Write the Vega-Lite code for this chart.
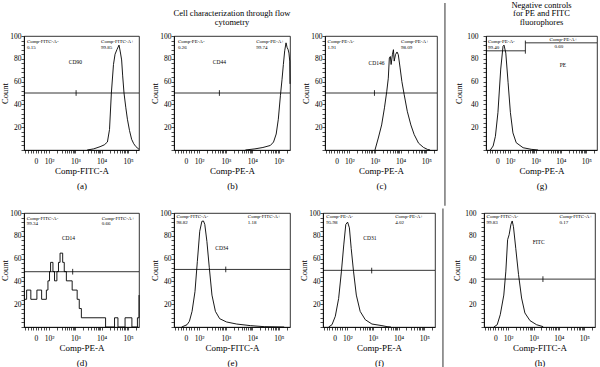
{
"$schema": "https://vega.github.io/schema/vega-lite/v6.json",
"padding": {"left": 0, "top": 0, "right": 0, "bottom": 0},
"spacing": 0,
"datasets": {
"a": [{"u":3.45,"n":0},{"u":3.7,"n":1},{"u":3.94,"n":2.9},{"u":4.1,"n":4.5},{"u":4.22,"n":7},{"u":4.3,"n":18},{"u":4.37,"n":50},{"u":4.45,"n":75},{"u":4.51,"n":84},{"u":4.58,"n":88},{"u":4.66,"n":92},{"u":4.71,"n":86},{"u":4.76,"n":79},{"u":4.8,"n":65},{"u":4.85,"n":50},{"u":4.92,"n":37},{"u":4.98,"n":27},{"u":5.06,"n":17},{"u":5.14,"n":9.4},{"u":5.22,"n":5.5},{"u":5.3,"n":3},{"u":5.42,"n":0.6}],
"b": [{"u":3.74,"n":0},{"u":4.1,"n":1},{"u":4.4,"n":2.2},{"u":4.68,"n":4},{"u":4.8,"n":7},{"u":4.9,"n":14},{"u":4.98,"n":27},{"u":5.06,"n":48},{"u":5.12,"n":62},{"u":5.17,"n":75},{"u":5.22,"n":87},{"u":5.27,"n":94},{"u":5.31,"n":90},{"u":5.35,"n":88},{"u":5.38,"n":85},{"u":5.41,"n":78},{"u":5.42,"n":58}],
"c": [{"u":3.0,"n":0},{"u":3.13,"n":10.5},{"u":3.26,"n":22},{"u":3.37,"n":37},{"u":3.46,"n":51.5},{"u":3.52,"n":63},{"u":3.56,"n":80.7},{"u":3.6,"n":82},{"u":3.63,"n":75},{"u":3.68,"n":83.6},{"u":3.72,"n":88},{"u":3.75,"n":78},{"u":3.8,"n":83.6},{"u":3.86,"n":86},{"u":3.91,"n":83.6},{"u":3.98,"n":72},{"u":4.05,"n":60},{"u":4.14,"n":48.5},{"u":4.26,"n":34},{"u":4.4,"n":22},{"u":4.53,"n":13.5},{"u":4.7,"n":6},{"u":4.89,"n":2.3},{"u":5.05,"n":0.5},{"u":5.15,"n":0}],
"d": [{"u":1.05,"n":24.3},{"u":1.15,"n":32.4},{"u":1.31,"n":24.3},{"u":1.54,"n":32.4},{"u":1.72,"n":24.3},{"u":1.9,"n":32.4},{"u":1.96,"n":40.5},{"u":2.02,"n":48.6},{"u":2.06,"n":56.7},{"u":2.15,"n":48.6},{"u":2.21,"n":40.5},{"u":2.3,"n":48.6},{"u":2.36,"n":56.7},{"u":2.42,"n":64.8},{"u":2.52,"n":56.7},{"u":2.58,"n":48.6},{"u":2.66,"n":40.5},{"u":2.88,"n":32.4},{"u":3.07,"n":24.3},{"u":3.15,"n":16.2},{"u":3.23,"n":8.1},{"u":4.15,"n":0},{"u":4.49,"n":8.1},{"u":4.62,"n":0},{"u":4.89,"n":8.1},{"u":5.15,"n":0},{"u":5.36,"n":8.1},{"u":5.42,"n":28}],
"e": [{"u":1.34,"n":0},{"u":1.54,"n":2},{"u":1.63,"n":5},{"u":1.73,"n":13.7},{"u":1.84,"n":31},{"u":1.93,"n":57.6},{"u":2.02,"n":84},{"u":2.1,"n":92.7},{"u":2.16,"n":93},{"u":2.21,"n":90},{"u":2.29,"n":75},{"u":2.38,"n":52},{"u":2.48,"n":28},{"u":2.61,"n":13.7},{"u":2.77,"n":7.3},{"u":3.03,"n":4.4},{"u":3.41,"n":2.6},{"u":3.93,"n":1.2},{"u":4.45,"n":0.3},{"u":5.2,"n":0}],
"f": [{"u":1.27,"n":0},{"u":1.4,"n":2},{"u":1.53,"n":9.4},{"u":1.66,"n":25},{"u":1.77,"n":49},{"u":1.86,"n":72},{"u":1.94,"n":90},{"u":2.01,"n":92},{"u":2.08,"n":87},{"u":2.15,"n":69},{"u":2.24,"n":49},{"u":2.35,"n":28},{"u":2.5,"n":13.7},{"u":2.7,"n":6.4},{"u":2.96,"n":2.6},{"u":3.35,"n":1.2},{"u":3.55,"n":0.3},{"u":3.7,"n":0}],
"g": [{"u":1.22,"n":0},{"u":1.33,"n":3.5},{"u":1.42,"n":12},{"u":1.52,"n":33},{"u":1.63,"n":71},{"u":1.72,"n":91},{"u":1.76,"n":92},{"u":1.83,"n":85},{"u":1.92,"n":59},{"u":2.01,"n":33},{"u":2.11,"n":15},{"u":2.24,"n":6.4},{"u":2.51,"n":2},{"u":2.83,"n":0.6},{"u":3.1,"n":0}],
"h": [{"u":1.44,"n":0},{"u":1.57,"n":2},{"u":1.69,"n":10.8},{"u":1.83,"n":28},{"u":1.91,"n":49},{"u":1.98,"n":76.6},{"u":2.04,"n":81},{"u":2.11,"n":90},{"u":2.16,"n":93},{"u":2.21,"n":88},{"u":2.3,"n":69},{"u":2.41,"n":46},{"u":2.53,"n":25.4},{"u":2.66,"n":12.3},{"u":2.86,"n":5.6},{"u":3.12,"n":2},{"u":3.38,"n":0.3}]
},
"vconcat": [
{"hconcat": [
{"width": 115, "height": 114,
 "resolve": {"axis": {"x": "independent", "y": "independent"}},
 "layer": [
  {"data": {"name": "a"}, "mark": {"type": "line", "color": "#000", "strokeWidth": 0.9},
   "encoding": {
    "x": {"field": "u", "type": "quantitative", "scale": {"domain": [1.05, 5.42], "nice": false, "zero": false},
      "axis": {"values": [1.1,1.2,1.3,1.4,1.5,1.6,1.7,1.8,1.9,2,2.301,2.477,2.602,2.699,2.778,2.845,2.903,2.954,3,3.301,3.477,3.602,3.699,3.778,3.845,3.903,3.954,4,4.301,4.477,4.602,4.699,4.778,4.845,4.903,4.954,5,5.301],
       "labelExpr": "datum.value==1.5?'0':datum.value==2?'10²':datum.value==3?'10³':datum.value==4?'10⁴':datum.value==5?'10⁵':''",
       "title": ["Comp-FITC-A", "(a)"]}},
    "y": {"field": "n", "type": "quantitative", "scale": {"domain": [0, 100], "nice": false},
      "axis": {"values": [0,4,8,12,16,20,24,28,32,36,40,44,48,52,56,60,64,68,72,76,80,84,88,92,96,100],
       "labelExpr": "datum.value>0&&datum.value%20==0?datum.label:''",
       "title": "Count"}}}},
  {"data": {"values": [{}]}, "mark": {"type": "rule", "color": "#000", "strokeWidth": 0.8}, "encoding": {"y": {"datum": 50, "axis": null}}},
  {"data": {"values": [{}]}, "mark": {"type": "rule", "color": "#000", "strokeWidth": 0.8}, "encoding": {"x": {"datum": 3.03, "axis": null}, "y": {"datum": 47.5, "axis": null}, "y2": {"datum": 52.5}}},
  {"data": {"values": [{"u":1.16,"n":95.5,"t":"Comp-FITC-A-"},{"u":1.16,"n":90.5,"t":"0.15"},{"u":3.98,"n":95.5,"t":"Comp-FITC-A+"},{"u":3.98,"n":90.5,"t":"99.85"}]},
   "mark": {"type": "text", "fontSize": 5, "align": "left", "baseline": "middle"},
   "encoding": {"x": {"field": "u", "type": "quantitative", "axis": null}, "y": {"field": "n", "type": "quantitative", "axis": null}, "text": {"field": "t"}}},
  {"data": {"values": [{}]}, "mark": {"type": "text", "fontSize": 5.5, "align": "center", "baseline": "middle"}, "encoding": {"x": {"datum": 3.0, "axis": null}, "y": {"datum": 77, "axis": null}, "text": {"value": "CD90"}}}
 ]},
{"width": 116, "height": 114,
 "title": {"text": ["Cell characterization through flow", "cytometry"]},
 "resolve": {"axis": {"x": "independent", "y": "independent"}},
 "layer": [
  {"data": {"name": "b"}, "mark": {"type": "line", "color": "#000", "strokeWidth": 0.9},
   "encoding": {
    "x": {"field": "u", "type": "quantitative", "scale": {"domain": [1.05, 5.42], "nice": false, "zero": false},
      "axis": {"values": [1.1,1.2,1.3,1.4,1.5,1.6,1.7,1.8,1.9,2,2.301,2.477,2.602,2.699,2.778,2.845,2.903,2.954,3,3.301,3.477,3.602,3.699,3.778,3.845,3.903,3.954,4,4.301,4.477,4.602,4.699,4.778,4.845,4.903,4.954,5,5.301],
       "labelExpr": "datum.value==1.5?'0':datum.value==2?'10²':datum.value==3?'10³':datum.value==4?'10⁴':datum.value==5?'10⁵':''",
       "title": ["Comp-PE-A", "(b)"]}},
    "y": {"field": "n", "type": "quantitative", "scale": {"domain": [0, 100], "nice": false},
      "axis": {"values": [0,4,8,12,16,20,24,28,32,36,40,44,48,52,56,60,64,68,72,76,80,84,88,92,96,100],
       "labelExpr": "datum.value>0&&datum.value%20==0?datum.label:''",
       "title": "Count"}}}},
  {"data": {"values": [{}]}, "mark": {"type": "rule", "color": "#000", "strokeWidth": 0.8}, "encoding": {"y": {"datum": 50, "axis": null}}},
  {"data": {"values": [{}]}, "mark": {"type": "rule", "color": "#000", "strokeWidth": 0.8}, "encoding": {"x": {"datum": 2.76, "axis": null}, "y": {"datum": 47.5, "axis": null}, "y2": {"datum": 52.5}}},
  {"data": {"values": [{"u":1.2,"n":95.5,"t":"Comp-PE-A-"},{"u":1.2,"n":90.5,"t":"0.26"},{"u":4.15,"n":95.5,"t":"Comp-PE-A+"},{"u":4.15,"n":90.5,"t":"99.74"}]},
   "mark": {"type": "text", "fontSize": 5, "align": "left", "baseline": "middle"},
   "encoding": {"x": {"field": "u", "type": "quantitative", "axis": null}, "y": {"field": "n", "type": "quantitative", "axis": null}, "text": {"field": "t"}}},
  {"data": {"values": [{}]}, "mark": {"type": "text", "fontSize": 5.5, "align": "center", "baseline": "middle"}, "encoding": {"x": {"datum": 2.76, "axis": null}, "y": {"datum": 77, "axis": null}, "text": {"value": "CD44"}}}
 ]},
{"width": 112, "height": 114,
 "resolve": {"axis": {"x": "independent", "y": "independent"}},
 "layer": [
  {"data": {"name": "c"}, "mark": {"type": "line", "color": "#000", "strokeWidth": 0.9},
   "encoding": {
    "x": {"field": "u", "type": "quantitative", "scale": {"domain": [1.05, 5.42], "nice": false, "zero": false},
      "axis": {"values": [1.1,1.2,1.3,1.4,1.5,1.6,1.7,1.8,1.9,2,2.301,2.477,2.602,2.699,2.778,2.845,2.903,2.954,3,3.301,3.477,3.602,3.699,3.778,3.845,3.903,3.954,4,4.301,4.477,4.602,4.699,4.778,4.845,4.903,4.954,5,5.301],
       "labelExpr": "datum.value==1.5?'0':datum.value==2?'10²':datum.value==3?'10³':datum.value==4?'10⁴':datum.value==5?'10⁵':''",
       "title": ["Comp-PE-A", "(c)"]}},
    "y": {"field": "n", "type": "quantitative", "scale": {"domain": [0, 100], "nice": false},
      "axis": {"values": [0,4,8,12,16,20,24,28,32,36,40,44,48,52,56,60,64,68,72,76,80,84,88,92,96,100],
       "labelExpr": "datum.value>0&&datum.value%20==0?datum.label:''",
       "title": "Count"}}}},
  {"data": {"values": [{}]}, "mark": {"type": "rule", "color": "#000", "strokeWidth": 0.8}, "encoding": {"y": {"datum": 50, "axis": null}}},
  {"data": {"values": [{}]}, "mark": {"type": "rule", "color": "#000", "strokeWidth": 0.8}, "encoding": {"x": {"datum": 2.98, "axis": null}, "y": {"datum": 47.5, "axis": null}, "y2": {"datum": 52.5}}},
  {"data": {"values": [{"u":1.15,"n":95.5,"t":"Comp-PE-A-"},{"u":1.15,"n":90.5,"t":"1.91"},{"u":4.02,"n":95.5,"t":"Comp-PE-A+"},{"u":4.02,"n":90.5,"t":"98.09"}]},
   "mark": {"type": "text", "fontSize": 5, "align": "left", "baseline": "middle"},
   "encoding": {"x": {"field": "u", "type": "quantitative", "axis": null}, "y": {"field": "n", "type": "quantitative", "axis": null}, "text": {"field": "t"}}},
  {"data": {"values": [{}]}, "mark": {"type": "text", "fontSize": 5.5, "align": "center", "baseline": "middle"}, "encoding": {"x": {"datum": 3.06, "axis": null}, "y": {"datum": 76, "axis": null}, "text": {"value": "CD146"}}},
  {"data": {"values": [{}]}, "mark": {"type": "rule", "color": "#444", "strokeWidth": 1.1}, "encoding": {"x": {"datum": 5.73, "axis": null}, "y": {"datum": 128.95, "axis": null}, "y2": {"datum": -49}}}
 ]},
{"width": 111, "height": 114,
 "title": {"text": ["Negative controls", "for PE and FITC", "fluorophores"]},
 "resolve": {"axis": {"x": "independent", "y": "independent"}},
 "layer": [
  {"data": {"name": "g"}, "mark": {"type": "line", "color": "#000", "strokeWidth": 0.9},
   "encoding": {
    "x": {"field": "u", "type": "quantitative", "scale": {"domain": [1.05, 5.42], "nice": false, "zero": false},
      "axis": {"values": [1.1,1.2,1.3,1.4,1.5,1.6,1.7,1.8,1.9,2,2.301,2.477,2.602,2.699,2.778,2.845,2.903,2.954,3,3.301,3.477,3.602,3.699,3.778,3.845,3.903,3.954,4,4.301,4.477,4.602,4.699,4.778,4.845,4.903,4.954,5,5.301],
       "labelExpr": "datum.value==1.5?'0':datum.value==2?'10²':datum.value==3?'10³':datum.value==4?'10⁴':datum.value==5?'10⁵':''",
       "title": ["Comp-PE-A", "(g)"]}},
    "y": {"field": "n", "type": "quantitative", "scale": {"domain": [0, 100], "nice": false},
      "axis": {"values": [0,4,8,12,16,20,24,28,32,36,40,44,48,52,56,60,64,68,72,76,80,84,88,92,96,100],
       "labelExpr": "datum.value>0&&datum.value%20==0?datum.label:''",
       "labelPadding": 5, "titlePadding": 3,
       "title": "Count"}}}},
  {"data": {"values": [{}]}, "mark": {"type": "rule", "color": "#000", "strokeWidth": 0.8}, "encoding": {"x": {"datum": 1.05, "axis": null}, "x2": {"datum": 2.6}, "y": {"datum": 87, "axis": null}}},
  {"data": {"values": [{}]}, "mark": {"type": "rule", "color": "#000", "strokeWidth": 0.8}, "encoding": {"x": {"datum": 2.6, "axis": null}, "x2": {"datum": 5.42}, "y": {"datum": 94, "axis": null}}},
  {"data": {"values": [{}]}, "mark": {"type": "rule", "color": "#000", "strokeWidth": 0.8}, "encoding": {"x": {"datum": 2.6, "axis": null}, "y": {"datum": 84.5, "axis": null}, "y2": {"datum": 96}}},
  {"data": {"values": [{"u":1.13,"n":95.5,"t":"Comp-PE-A-"},{"u":1.13,"n":90.5,"t":"99.40"},{"u":3.55,"n":97.5,"t":"Comp-PE-A+"},{"u":3.75,"n":91.5,"t":"0.60"}]},
   "mark": {"type": "text", "fontSize": 5, "align": "left", "baseline": "middle"},
   "encoding": {"x": {"field": "u", "type": "quantitative", "axis": null}, "y": {"field": "n", "type": "quantitative", "axis": null}, "text": {"field": "t"}}},
  {"data": {"values": [{}]}, "mark": {"type": "text", "fontSize": 5.5, "align": "center", "baseline": "middle"}, "encoding": {"x": {"datum": 4.08, "axis": null}, "y": {"datum": 75, "axis": null}, "text": {"value": "PE"}}}
 ]}
], "spacing": 8},
{"hconcat": [
{"width": 115, "height": 114,
 "resolve": {"axis": {"x": "independent", "y": "independent"}},
 "layer": [
  {"data": {"name": "d"}, "mark": {"type": "line", "color": "#000", "strokeWidth": 0.9, "interpolate": "step-after"},
   "encoding": {
    "x": {"field": "u", "type": "quantitative", "scale": {"domain": [1.05, 5.42], "nice": false, "zero": false},
      "axis": {"values": [1.1,1.2,1.3,1.4,1.5,1.6,1.7,1.8,1.9,2,2.301,2.477,2.602,2.699,2.778,2.845,2.903,2.954,3,3.301,3.477,3.602,3.699,3.778,3.845,3.903,3.954,4,4.301,4.477,4.602,4.699,4.778,4.845,4.903,4.954,5,5.301],
       "labelExpr": "datum.value==1.5?'0':datum.value==2?'10²':datum.value==3?'10³':datum.value==4?'10⁴':datum.value==5?'10⁵':''",
       "title": ["Comp-PE-A", "(d)"]}},
    "y": {"field": "n", "type": "quantitative", "scale": {"domain": [0, 100], "nice": false},
      "axis": {"values": [0,4,8,12,16,20,24,28,32,36,40,44,48,52,56,60,64,68,72,76,80,84,88,92,96,100],
       "labelExpr": "datum.value>0&&datum.value%20==0?datum.label:''",
       "title": "Count"}}}},
  {"data": {"values": [{}]}, "mark": {"type": "rule", "color": "#000", "strokeWidth": 0.8}, "encoding": {"y": {"datum": 48.5, "axis": null}}},
  {"data": {"values": [{}]}, "mark": {"type": "rule", "color": "#000", "strokeWidth": 0.8}, "encoding": {"x": {"datum": 2.9, "axis": null}, "y": {"datum": 46, "axis": null}, "y2": {"datum": 51}}},
  {"data": {"values": [{"u":1.15,"n":96,"t":"Comp-FITC-A-"},{"u":1.15,"n":91,"t":"99.34"},{"u":4.0,"n":96,"t":"Comp-FITC-A+"},{"u":4.0,"n":91,"t":"0.66"}]},
   "mark": {"type": "text", "fontSize": 5, "align": "left", "baseline": "middle"},
   "encoding": {"x": {"field": "u", "type": "quantitative", "axis": null}, "y": {"field": "n", "type": "quantitative", "axis": null}, "text": {"field": "t"}}},
  {"data": {"values": [{}]}, "mark": {"type": "text", "fontSize": 5.5, "align": "center", "baseline": "middle"}, "encoding": {"x": {"datum": 2.74, "axis": null}, "y": {"datum": 78, "axis": null}, "text": {"value": "CD14"}}}
 ]},
{"width": 116, "height": 114,
 "resolve": {"axis": {"x": "independent", "y": "independent"}},
 "layer": [
  {"data": {"name": "e"}, "mark": {"type": "line", "color": "#000", "strokeWidth": 0.9},
   "encoding": {
    "x": {"field": "u", "type": "quantitative", "scale": {"domain": [1.05, 5.42], "nice": false, "zero": false},
      "axis": {"values": [1.1,1.2,1.3,1.4,1.5,1.6,1.7,1.8,1.9,2,2.301,2.477,2.602,2.699,2.778,2.845,2.903,2.954,3,3.301,3.477,3.602,3.699,3.778,3.845,3.903,3.954,4,4.301,4.477,4.602,4.699,4.778,4.845,4.903,4.954,5,5.301],
       "labelExpr": "datum.value==1.5?'0':datum.value==2?'10²':datum.value==3?'10³':datum.value==4?'10⁴':datum.value==5?'10⁵':''",
       "title": ["Comp-FITC-A", "(e)"]}},
    "y": {"field": "n", "type": "quantitative", "scale": {"domain": [0, 100], "nice": false},
      "axis": {"values": [0,4,8,12,16,20,24,28,32,36,40,44,48,52,56,60,64,68,72,76,80,84,88,92,96,100],
       "labelExpr": "datum.value>0&&datum.value%20==0?datum.label:''",
       "title": "Count"}}}},
  {"data": {"values": [{}]}, "mark": {"type": "rule", "color": "#000", "strokeWidth": 0.8}, "encoding": {"y": {"datum": 50.5, "axis": null}}},
  {"data": {"values": [{}]}, "mark": {"type": "rule", "color": "#000", "strokeWidth": 0.8}, "encoding": {"x": {"datum": 3.0, "axis": null}, "y": {"datum": 48, "axis": null}, "y2": {"datum": 53}}},
  {"data": {"values": [{"u":1.14,"n":97,"t":"Comp-FITC-A-"},{"u":1.14,"n":92,"t":"98.82"},{"u":3.83,"n":97,"t":"Comp-FITC-A+"},{"u":3.83,"n":92,"t":"1.18"}]},
   "mark": {"type": "text", "fontSize": 5, "align": "left", "baseline": "middle"},
   "encoding": {"x": {"field": "u", "type": "quantitative", "axis": null}, "y": {"field": "n", "type": "quantitative", "axis": null}, "text": {"field": "t"}}},
  {"data": {"values": [{}]}, "mark": {"type": "text", "fontSize": 5.5, "align": "center", "baseline": "middle"}, "encoding": {"x": {"datum": 2.85, "axis": null}, "y": {"datum": 69, "axis": null}, "text": {"value": "CD34"}}}
 ]},
{"width": 112, "height": 114,
 "resolve": {"axis": {"x": "independent", "y": "independent"}},
 "layer": [
  {"data": {"name": "f"}, "mark": {"type": "line", "color": "#000", "strokeWidth": 0.9},
   "encoding": {
    "x": {"field": "u", "type": "quantitative", "scale": {"domain": [1.05, 5.42], "nice": false, "zero": false},
      "axis": {"values": [1.1,1.2,1.3,1.4,1.5,1.6,1.7,1.8,1.9,2,2.301,2.477,2.602,2.699,2.778,2.845,2.903,2.954,3,3.301,3.477,3.602,3.699,3.778,3.845,3.903,3.954,4,4.301,4.477,4.602,4.699,4.778,4.845,4.903,4.954,5,5.301],
       "labelExpr": "datum.value==1.5?'0':datum.value==2?'10²':datum.value==3?'10³':datum.value==4?'10⁴':datum.value==5?'10⁵':''",
       "title": ["Comp-PE-A", "(f)"]}},
    "y": {"field": "n", "type": "quantitative", "scale": {"domain": [0, 100], "nice": false},
      "axis": {"values": [0,4,8,12,16,20,24,28,32,36,40,44,48,52,56,60,64,68,72,76,80,84,88,92,96,100],
       "labelExpr": "datum.value>0&&datum.value%20==0?datum.label:''",
       "title": "Count"}}}},
  {"data": {"values": [{}]}, "mark": {"type": "rule", "color": "#000", "strokeWidth": 0.8}, "encoding": {"y": {"datum": 49.7, "axis": null}}},
  {"data": {"values": [{}]}, "mark": {"type": "rule", "color": "#000", "strokeWidth": 0.8}, "encoding": {"x": {"datum": 2.95, "axis": null}, "y": {"datum": 47, "axis": null}, "y2": {"datum": 52}}},
  {"data": {"values": [{"u":1.18,"n":97,"t":"Comp-PE-A-"},{"u":1.18,"n":92,"t":"95.98"},{"u":3.87,"n":97,"t":"Comp-PE-A+"},{"u":3.87,"n":92,"t":"4.02"}]},
   "mark": {"type": "text", "fontSize": 5, "align": "left", "baseline": "middle"},
   "encoding": {"x": {"field": "u", "type": "quantitative", "axis": null}, "y": {"field": "n", "type": "quantitative", "axis": null}, "text": {"field": "t"}}},
  {"data": {"values": [{}]}, "mark": {"type": "text", "fontSize": 5.5, "align": "center", "baseline": "middle"}, "encoding": {"x": {"datum": 2.88, "axis": null}, "y": {"datum": 78, "axis": null}, "text": {"value": "CD31"}}},
  {"data": {"values": [{}]}, "mark": {"type": "rule", "color": "#444", "strokeWidth": 1.1}, "encoding": {"x": {"datum": 5.73, "axis": null}, "y": {"datum": 104, "axis": null}, "y2": {"datum": -40.4}}}
 ]},
{"width": 111, "height": 114,
 "resolve": {"axis": {"x": "independent", "y": "independent"}},
 "layer": [
  {"data": {"name": "h"}, "mark": {"type": "line", "color": "#000", "strokeWidth": 0.9},
   "encoding": {
    "x": {"field": "u", "type": "quantitative", "scale": {"domain": [1.05, 5.42], "nice": false, "zero": false},
      "axis": {"values": [1.1,1.2,1.3,1.4,1.5,1.6,1.7,1.8,1.9,2,2.301,2.477,2.602,2.699,2.778,2.845,2.903,2.954,3,3.301,3.477,3.602,3.699,3.778,3.845,3.903,3.954,4,4.301,4.477,4.602,4.699,4.778,4.845,4.903,4.954,5,5.301],
       "labelExpr": "datum.value==1.5?'0':datum.value==2?'10²':datum.value==3?'10³':datum.value==4?'10⁴':datum.value==5?'10⁵':''",
       "title": ["Comp-FITC-A", "(h)"]}},
    "y": {"field": "n", "type": "quantitative", "scale": {"domain": [0, 100], "nice": false},
      "axis": {"values": [0,4,8,12,16,20,24,28,32,36,40,44,48,52,56,60,64,68,72,76,80,84,88,92,96,100],
       "labelExpr": "datum.value>0&&datum.value%20==0?datum.label:''",
       "labelPadding": 5, "titlePadding": 3,
       "title": "Count"}}}},
  {"data": {"values": [{}]}, "mark": {"type": "rule", "color": "#000", "strokeWidth": 0.8}, "encoding": {"y": {"datum": 42, "axis": null}}},
  {"data": {"values": [{}]}, "mark": {"type": "rule", "color": "#000", "strokeWidth": 0.8}, "encoding": {"x": {"datum": 3.37, "axis": null}, "y": {"datum": 39.5, "axis": null}, "y2": {"datum": 44.5}}},
  {"data": {"values": [{"u":1.15,"n":97,"t":"Comp-FITC-A-"},{"u":1.15,"n":92,"t":"99.83"},{"u":4.02,"n":97,"t":"Comp-FITC-A+"},{"u":4.02,"n":92,"t":"0.17"}]},
   "mark": {"type": "text", "fontSize": 5, "align": "left", "baseline": "middle"},
   "encoding": {"x": {"field": "u", "type": "quantitative", "axis": null}, "y": {"field": "n", "type": "quantitative", "axis": null}, "text": {"field": "t"}}},
  {"data": {"values": [{}]}, "mark": {"type": "text", "fontSize": 5.5, "align": "center", "baseline": "middle"}, "encoding": {"x": {"datum": 3.2, "axis": null}, "y": {"datum": 75, "axis": null}, "text": {"value": "FITC"}}}
 ]}
], "spacing": 8}
],
"config": {
 "font": "Liberation Serif",
 "view": {"stroke": "#000", "strokeWidth": 0.8},
 "axis": {"grid": false, "domainColor": "#000", "domainWidth": 0.8, "tickColor": "#000", "tickWidth": 0.7, "tickSize": 3, "labelColor": "#000", "titleColor": "#000", "labelFont": "Liberation Serif", "titleFont": "Liberation Serif", "labelFontSize": 7.5, "titleFontSize": 8.5, "titleFontWeight": "normal", "labelOverlap": false, "labelFlush": false},
 "axisX": {"labelPadding": 4, "titlePadding": 2, "titleLineHeight": 15, "titleFontSize": 9},
 "axisY": {"labelPadding": 0, "titlePadding": 0},
 "title": {"font": "Liberation Serif", "fontSize": 8.5, "fontWeight": "normal", "color": "#000", "offset": 6, "lineHeight": 8.5},
 "text": {"color": "#000", "font": "Liberation Serif"}
}
}
